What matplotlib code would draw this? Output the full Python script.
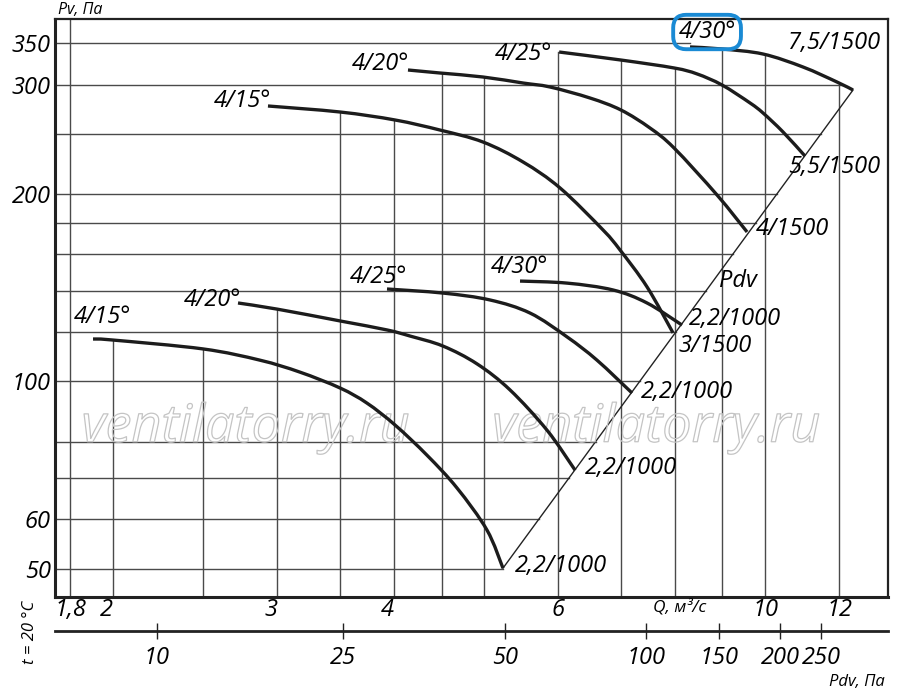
import numpy as np
import matplotlib
matplotlib.use('Agg')
import matplotlib.pyplot as plt
import matplotlib.patheffects as pe
from matplotlib.path import Path
from matplotlib.patches import PathPatch
from matplotlib.ticker import NullLocator

plt.rcParams['font.family'] = ['Open Sans', 'DejaVu Sans']
plt.rcParams['font.style'] = 'italic'

# Кривые вентилятора: Q, м3/с и Pv, Па (1000 об/мин)
q_1000_15 = [1.904, 1.995, 2.497, 2.874, 3.173, 3.503, 3.743, 4.012, 4.341, 4.675, 5.033, 5.236]
pv_1000_15 = [117.0, 116.6, 112.8, 108.2, 103.5, 97.6, 92.3, 85.1, 76.1, 67.4, 57.7, 50.1]
q_1000_20 = [2.723, 2.999, 3.503, 3.933, 4.163, 4.515, 4.912, 5.328, 5.837, 6.256]
pv_1000_20 = [133.7, 130.7, 125.1, 121.0, 118.3, 114.0, 106.7, 96.9, 83.5, 72.0]
q_1000_25 = [3.933, 4.515, 5.071, 5.598, 6.134, 6.603, 7.200]
pv_1000_25 = [140.8, 138.7, 135.2, 128.8, 117.9, 108.2, 95.8]
q_1000_30 = [5.461, 6.134, 6.869, 7.471, 8.145]
pv_1000_30 = [145.0, 143.9, 140.3, 133.7, 123.2]

# 1500 об/мин
q_1500_15 = [2.932, 3.503, 4.012, 4.482, 4.984, 5.502, 6.029, 6.702, 6.989, 7.471, 7.966]
pv_1500_15 = [277.2, 271.1, 263.2, 253.6, 242.6, 225.3, 204.6, 175.2, 162.7, 141.9, 119.7]
q_1500_20 = [4.142, 4.482, 4.984, 5.502, 5.880, 6.491, 7.006, 7.526, 7.986, 8.880, 9.563]
pv_1500_20 = [316.7, 313.2, 308.6, 301.8, 297.4, 285.5, 273.1, 255.5, 237.3, 199.4, 173.9]
q_1500_25 = [6.014, 7.006, 7.986, 8.454, 8.990, 9.634, 9.947, 10.45, 11.03]
pv_1500_25 = [338.5, 328.6, 319.1, 312.1, 299.6, 280.3, 270.1, 251.8, 230.4]
q_1500_30 = [8.307, 8.990, 9.947, 10.98, 11.94, 12.42]
pv_1500_30 = [344.9, 342.3, 336.0, 320.2, 302.9, 294.1]

# линия динамического давления Pdv
pdv_line_q = [5.236, 12.42]
pdv_line_p = [50.1, 294.1]

q_ticks = [1.8, 2, 3, 4, 6, 10, 12]
q_labels = ['1,8', '2', '3', '4', '6', '10', '12']
pv_ticks = [350, 300, 200, 100, 60, 50]
pv_labels = ['350', '300', '200', '100', '60', '50']
pdv_tick_q = [2.229, 3.529, 5.262, 7.453, 8.925, 10.37, 11.48]
pdv_labels = ['10', '25', '50', '100', '150', '200', '250']

vgrid_q = [1.8, 2, 2.5, 3, 3.5, 4, 4.5, 5, 6, 7, 8, 9, 10, 12]
hgrid_p = [350, 300, 250, 200, 180, 160, 140, 120, 100, 80, 70, 60, 50]

curves = {
    '1000_15': (q_1000_15, pv_1000_15),
    '1000_20': (q_1000_20, pv_1000_20),
    '1000_25': (q_1000_25, pv_1000_25),
    '1000_30': (q_1000_30, pv_1000_30),
    '1500_15': (q_1500_15, pv_1500_15),
    '1500_20': (q_1500_20, pv_1500_20),
    '1500_25': (q_1500_25, pv_1500_25),
    '1500_30': (q_1500_30, pv_1500_30),
}
# до какой кривой доходит вертикальная линия сетки
vgrid_top = [None, '1000_15', '1000_15', '1000_20', '1500_15', '1500_15', '1500_20',
             '1500_20', '1500_25', '1500_25', '1500_25', '1500_30', '1500_30', '1500_30']


def on_curve(q, qs, ps):
    return 10 ** np.interp(np.log10(q), np.log10(qs), np.log10(ps))


def smooth_path(qs, ps):
    # гладкая кривая Безье через точки (в логарифмических координатах)
    pts = np.column_stack([np.log10(qs), np.log10(ps)])
    ext = np.vstack([pts[0], pts, pts[-1]])
    verts = [pts[0]]
    codes = [Path.MOVETO]
    for i in range(len(pts) - 1):
        p0, p1, p2, p3 = ext[i], ext[i + 1], ext[i + 2], ext[i + 3]
        verts += [p1 + (p2 - p0) / 6, p2 - (p3 - p1) / 6, p2]
        codes += [Path.CURVE4] * 3
    return Path(10 ** np.array(verts), codes)


fig = plt.figure(figsize=(9, 6.95), dpi=100)
ax = fig.add_axes([55 / 900, 98 / 695, 833 / 900, 578 / 695])
ax.set_xscale('log')
ax.set_yscale('log')
xmin, xmax = 1.7335, 13.54
ymin, ymax = 45.03, 382.5
ax.set_xlim(xmin, xmax)
ax.set_ylim(ymin, ymax)

grid_kw = dict(color='#4a4a4a', lw=1.0, zorder=1)
for q, top in zip(vgrid_q, vgrid_top):
    ptop = ymax if top is None else on_curve(q, *curves[top])
    ax.plot([q, q], [ymin, ptop], **grid_kw)

for p in hgrid_p:
    if p <= pdv_line_p[1]:
        q_end = on_curve(p, pdv_line_p, pdv_line_q)
    else:
        q_end = on_curve(p, pv_1500_30[::-1], q_1500_30[::-1])
    ax.plot([xmin, q_end], [p, p], **grid_kw)

ax.plot(pdv_line_q, pdv_line_p, color='#222222', lw=1.0, zorder=2)

for qs, ps in curves.values():
    ax.add_patch(PathPatch(smooth_path(qs, ps), fill=False, ec='#1c1c1c',
                           lw=2.4, capstyle='butt', zorder=3))

fs = 17
txt = dict(fontsize=fs, ha='center', va='center', zorder=4)
ax.text(1.951, 126.9, '4/15°', **txt)
ax.text(2.560, 135.2, '4/20°', **txt)
ax.text(3.847, 147.2, '4/25°', **txt)
ax.text(5.448, 152.8, '4/30°', **txt)
ax.text(2.756, 282.3, '4/15°', **txt)
ax.text(3.866, 323.8, '4/20°', **txt)
ax.text(5.502, 336.0, '4/25°', **txt)
ax.text(8.664, 364.5, '4/30°', clip_on=False,
        bbox=dict(boxstyle='round,pad=0.22,rounding_size=0.55', fc='none',
                  ec='#1a8ad4', lw=2.8), **txt)

ax.text(11.85, 350.0, '7,5/1500', **txt)
ax.text(11.85, 221.2, '5,5/1500', **txt)
ax.text(10.69, 175.8, '4/1500', **txt)
ax.text(9.352, 145.0, 'Pdv', **txt)
ax.text(9.283, 126.0, '2,2/1000', **txt)
ax.text(8.837, 114.0, '3/1500', **txt)
ax.text(8.246, 96.2, '2,2/1000', **txt)
ax.text(7.182, 72.6, '2,2/1000', **txt)
ax.text(6.043, 50.5, '2,2/1000', **txt)

for xw in (0.229, 0.722):
    ax.text(xw, 0.292, 'ventilatorry.ru', transform=ax.transAxes, fontsize=37.5,
            ha='center', va='center', color='none', zorder=2,
            path_effects=[pe.Stroke(linewidth=0.9, foreground='#c4c4c4')])

ax.set_xticks(q_ticks)
ax.set_xticklabels(q_labels)
ax.set_yticks(pv_ticks)
ax.set_yticklabels(pv_labels)
ax.xaxis.set_minor_locator(NullLocator())
ax.yaxis.set_minor_locator(NullLocator())
ax.tick_params(axis='x', length=0, pad=1, labelsize=fs)
ax.tick_params(axis='y', length=0, pad=3, labelsize=fs)
for lab in ax.get_xticklabels():
    if lab.get_text() in ('2', '3', '4'):
        lab.set_ha('right')

for s in ax.spines.values():
    s.set_linewidth(1.6)
    s.set_color('#222222')
ax.spines['left'].set_linewidth(2.2)
ax.spines['bottom'].set_linewidth(2.2)

ax2 = ax.twiny()
ax2.set_xscale('log')
ax2.set_xlim(xmin, xmax)
for s in ['top', 'left', 'right']:
    ax2.spines[s].set_visible(False)
ax2.spines['bottom'].set_visible(True)
ax2.spines['bottom'].set_position(('axes', -0.0588))
ax2.spines['bottom'].set_linewidth(2.0)
ax2.spines['bottom'].set_color('#222222')
ax2.xaxis.set_ticks_position('bottom')
ax2.set_xticks(pdv_tick_q)
ax2.set_xticklabels(pdv_labels)
ax2.xaxis.set_minor_locator(NullLocator())
ax2.tick_params(axis='x', direction='inout', length=11, width=1.0, pad=5,
                labelsize=fs, color='#222222')

ax.text(8.105, -0.018, 'Q, м³/с', transform=ax.get_xaxis_transform(),
        fontsize=12.5, ha='center', va='center')
ax.text(0.996, -0.147, 'Pdv, Па', transform=ax.transAxes, fontsize=12,
        ha='right', va='center')
ax.text(0.004, 1.016, 'Pv, Па', transform=ax.transAxes, fontsize=11.5,
        ha='left', va='center')
ax.text(-0.030, -0.061, 't = 20 °C', transform=ax.transAxes, fontsize=12,
        rotation=90, ha='center', va='center')

fig.savefig('out.png', dpi=100)
